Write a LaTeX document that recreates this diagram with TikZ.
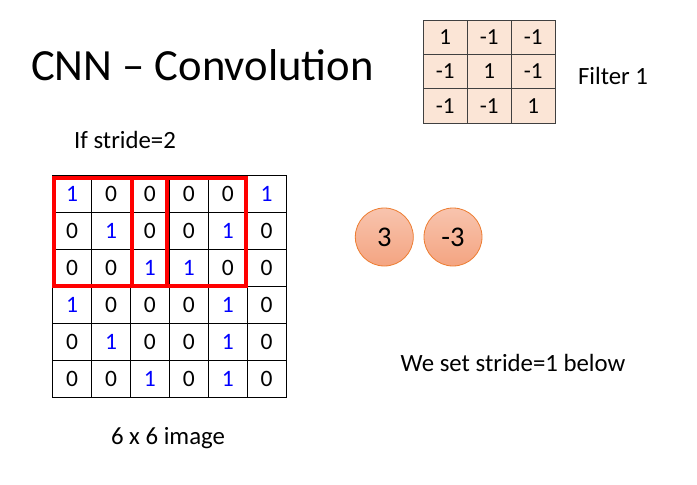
\documentclass[tikz,border=0pt]{standalone}
\usepackage{fontspec}
\setmainfont{Carlito}
\definecolor{peach}{HTML}{FBE5D6}
\definecolor{gridgray}{HTML}{404040}
\definecolor{circtop}{HTML}{F8C4AE}
\definecolor{circbot}{HTML}{F4A481}
\definecolor{circborder}{HTML}{ED7D31}
\definecolor{digblue}{HTML}{0000FF}
\begin{document}
\begin{tikzpicture}[x=1pt,y=-1pt,
  cell/.style={draw=black, line width=0.8pt, minimum width=38.9pt, minimum height=37pt, inner sep=0pt, font=\fontsize{23.5}{28}\selectfont},
  v0/.style={text=black}, v1/.style={text=digblue},
  fcell/.style={draw=gridgray, line width=0.8pt, fill=peach, minimum width=44pt, minimum height=34.3pt, inner sep=0pt, font=\fontsize{23}{28}\selectfont},
  redbox/.style={draw=red, line width=4pt},
  outnode/.style={circle, draw=circborder, line width=0.8pt, top color=circtop, bottom color=circbot, minimum size=58pt, inner sep=0pt, font=\fontsize{28.5}{32}\selectfont},
  label/.style={inner sep=0pt, font=\fontsize{24.8}{29}\selectfont}]
\useasboundingbox (0,0) rectangle (697,485);
\fill[white] (0,0) rectangle (697,485);
% title
\node[anchor=base west, inner sep=0pt, font=\fontsize{44.6}{52}\selectfont] (title) at (31,80) {CNN – Convolution};
% image grid
\foreach \row [count=\r from 0] in {{1,0,0,0,0,1},{0,1,0,0,1,0},{0,0,1,1,0,0},{1,0,0,0,1,0},{0,1,0,0,1,0},{0,0,1,0,1,0}}{
  \foreach \v [count=\c from 0] in \row {
    \node[cell, v\v] (g\r\c) at ({52.7+38.9*(\c+0.5)},{175.7+37*(\r+0.5)}) {\v};
  }
}
% red windows
\draw[redbox] (54,177.5) rectangle (167,286);
\draw[redbox] (132,177.5) rectangle (246,286);
% filter
\foreach \row [count=\r from 0] in {{1,-1,-1},{-1,1,-1},{-1,-1,1}}{
  \foreach \v [count=\c from 0] in \row {
    \node[fcell] (f\r\c) at ({423.3+44*(\c+0.5)},{20+34.3*(\r+0.5)}) {\v};
  }
}
\node[label] (flabel) at (613,76) {Filter 1};
% outputs
\node[outnode] (o1) at (384.3,237) {3};
\node[outnode] (o2) at (453,237) {-3};
% labels
\node[label] (stride2) at (125,140) {If stride=2};
\node[label] (imglabel) at (168,438) {6 x 6 image};
\node[label] (stride1) at (513,363) {We set stride=1 below};
\end{tikzpicture}
\end{document}
